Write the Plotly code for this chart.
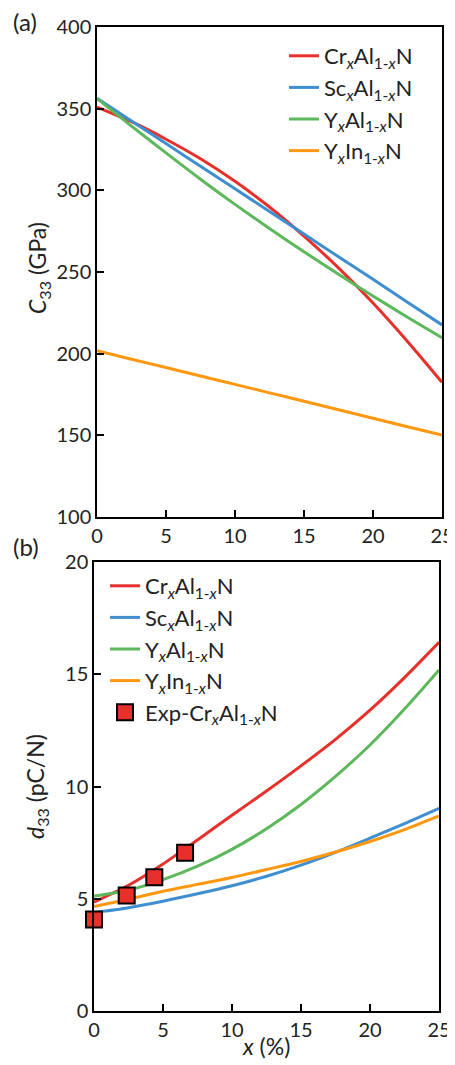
import plotly.graph_objects as go

# ---------------- data ----------------
x_pct = [0, 2.5, 5, 7.5, 10, 12.5, 15, 17.5, 20, 22.5, 25]

# (a) C33 (GPa)
c33_cr = [351.0, 342.0, 331.3, 319.3, 305.5, 289.8, 272.0, 252.5, 231.0, 207.5, 182.5]
c33_sc = [356.3, 342.5, 328.6, 314.8, 300.9, 287.1, 273.2, 259.4, 245.5, 231.5, 217.6]
c33_yal = [356.3, 339.3, 322.9, 306.8, 291.4, 276.6, 262.4, 248.6, 235.3, 222.3, 209.8]
c33_yin = [201.8, 196.6, 191.5, 186.3, 181.2, 176.0, 170.9, 165.7, 160.5, 155.3, 150.2]

# (b) d33 (pC/N)
d33_cr = [4.85, 5.60, 6.55, 7.62, 8.72, 9.80, 10.92, 12.10, 13.40, 14.85, 16.42]
d33_sc = [4.38, 4.60, 4.89, 5.22, 5.58, 6.00, 6.50, 7.07, 7.70, 8.35, 9.03]
d33_yal = [5.12, 5.38, 5.85, 6.45, 7.20, 8.12, 9.20, 10.45, 11.85, 13.45, 15.19]
d33_yin = [4.65, 4.98, 5.33, 5.64, 5.95, 6.30, 6.66, 7.08, 7.55, 8.08, 8.69]

exp_x = [0, 2.37, 4.37, 6.6]
exp_d33 = [4.08, 5.14, 5.96, 7.05]

names = ["Cr<sub><i>x</i></sub>Al<sub>1-<i>x</i></sub>N",
         "Sc<sub><i>x</i></sub>Al<sub>1-<i>x</i></sub>N",
         "Y<sub><i>x</i></sub>Al<sub>1-<i>x</i></sub>N",
         "Y<sub><i>x</i></sub>In<sub>1-<i>x</i></sub>N"]
exp_name = "Exp-Cr<sub><i>x</i></sub>Al<sub>1-<i>x</i></sub>N"

x_ticks = [0, 5, 10, 15, 20, 25]
c33_ticks = [100, 150, 200, 250, 300, 350, 400]
d33_ticks = [0, 5, 10, 15, 20]

colors = ["#e8302a", "#3e8ed0", "#5cb85a", "#ff9810"]

FONT = "Lato"
OFF = 8                      # page body margin of the html
W, H = 455 - OFF, 1065 - OFF


def fx(px):
    return (px - OFF) / W


def fy(py):
    return 1 - (py - OFF) / H


fig = go.Figure()

for ys, nm, col in zip([c33_cr, c33_sc, c33_yal, c33_yin], names, colors):
    fig.add_trace(go.Scatter(x=x_pct, y=ys, mode="lines", name=nm,
                             line=dict(color=col, width=3, shape="spline", smoothing=0.8),
                             xaxis="x", yaxis="y", legend="legend"))

for ys, nm, col in zip([d33_cr, d33_sc, d33_yal, d33_yin], names, colors):
    fig.add_trace(go.Scatter(x=x_pct, y=ys, mode="lines", name=nm,
                             line=dict(color=col, width=3, shape="spline", smoothing=0.8),
                             xaxis="x2", yaxis="y2", legend="legend2"))

fig.add_trace(go.Scatter(x=exp_x, y=exp_d33, mode="markers", name=exp_name,
                         marker=dict(symbol="square", size=16, color="#e8302a",
                                     line=dict(color="black", width=2)),
                         cliponaxis=False,
                         xaxis="x2", yaxis="y2", legend="legend2"))

axis_common = dict(showgrid=False, zeroline=False, showline=True, mirror=True,
                   linecolor="black", linewidth=1.5, ticks="inside",
                   ticklen=7, tickwidth=1.5, tickcolor="black", automargin=False,
                   tickfont=dict(family=FONT, size=20, color="#222"))

fig.update_layout(
    width=W, height=H,
    margin=dict(l=0, r=0, t=0, b=0, autoexpand=False),
    paper_bgcolor="white", plot_bgcolor="white",
    font=dict(family=FONT, color="#222"),
    xaxis=dict(domain=[fx(97), fx(442)], range=[0, 25], tickvals=x_ticks,
               anchor="y", **axis_common),
    yaxis=dict(domain=[fy(517), fy(27)], range=[100, 400],
               tickvals=c33_ticks, anchor="x", **axis_common),
    xaxis2=dict(domain=[fx(94), fx(439)], range=[0, 25], tickvals=x_ticks,
                anchor="y2", **axis_common),
    yaxis2=dict(domain=[fy(1011), fy(562)], range=[0, 20],
                tickvals=d33_ticks, anchor="x2", **axis_common),
    legend=dict(x=fx(284), y=fy(35), xanchor="left", yanchor="top",
                bgcolor="rgba(0,0,0,0)", font=dict(family=FONT, size=22, color="#222"),
                tracegroupgap=0, itemwidth=30),
    legend2=dict(x=fx(105), y=fy(565), xanchor="left", yanchor="top",
                 bgcolor="rgba(0,0,0,0)", font=dict(family=FONT, size=22, color="#222"),
                 tracegroupgap=0, itemwidth=30),
    showlegend=True,
)

ann = [
    dict(text="(a)", x=fx(11), y=fy(22), xanchor="left", yanchor="middle",
         font=dict(size=24)),
    dict(text="(b)", x=fx(11), y=fy(546), xanchor="left", yanchor="middle",
         font=dict(size=24)),
    dict(text="<i>C</i><sub>33</sub> (GPa)", x=fx(38), y=fy(268),
         textangle=-90, xanchor="center", yanchor="middle", font=dict(size=23)),
    dict(text="<i>d</i><sub>33</sub> (pC/N)", x=fx(36), y=fy(787),
         textangle=-90, xanchor="center", yanchor="middle", font=dict(size=23)),
    dict(text="<i>x</i> (%)", x=fx(266), y=fy(1046),
         xanchor="center", yanchor="middle", font=dict(size=23)),
]
for a in ann:
    a.update(xref="paper", yref="paper", showarrow=False)
    a["font"].update(family=FONT, color="#222")
fig.update_layout(annotations=ann)

fig.write_html("out.html")
